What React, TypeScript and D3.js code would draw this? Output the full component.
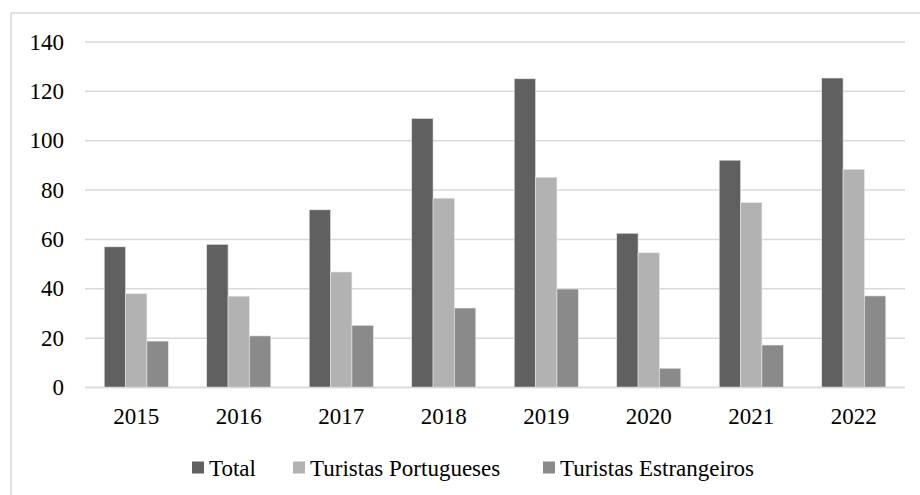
import React from "react";
import * as d3 from "d3";

const years = ["2015", "2016", "2017", "2018", "2019", "2020", "2021", "2022"];
const seriesNames = ["Total", "Turistas Portugueses", "Turistas Estrangeiros"];
const total = [57, 58, 72, 109, 125.1, 62.5, 92.1, 125.4];
const portugueses = [38, 37, 46.8, 76.7, 85.2, 54.6, 74.9, 88.4];
const estrangeiros = [18.8, 20.9, 25.2, 32.2, 39.9, 7.8, 17.2, 37.1];
const yTicks = [0, 20, 40, 60, 80, 100, 120, 140];
const colors = ["#606060", "#b2b2b2", "#8a8a8a"];

const W = 920;
const H = 495;
const left = 85;
const right = 905;
const top = 42;
const bottom = 387.5;
const font = '"Liberation Serif", "DejaVu Serif", serif';

export default function App() {
  const series = [total, portugueses, estrangeiros];
  const x0 = d3.scaleBand<string>().domain(years).range([left, right]).paddingInner(0.375).paddingOuter(0.1875);
  const x1 = d3.scaleBand<number>().domain([0, 1, 2]).range([0, x0.bandwidth()]);
  const y = d3.scaleLinear().domain([0, 140]).range([bottom, top]);

  const legendX = [192, 293, 543];
  const textStyle = { fontFamily: font, fontSize: "23px" };

  return (
    <svg width={W} height={H} style={{ position: "fixed", left: 0, top: 0, background: "#fff" }}>
      <rect x={11} y={13} width={W} height={H} fill="#fff" stroke="#d9d9d9" strokeWidth={1.5} />
      {yTicks.map((t) => (
        <g key={t}>
          <line x1={left} x2={right} y1={y(t)} y2={y(t)} stroke="#d9d9d9" strokeWidth={1.5} />
          <text x={64} y={y(t)} dy="0.33em" textAnchor="end" style={textStyle} fill="#000">
            {t}
          </text>
        </g>
      ))}
      {years.map((yr, i) => (
        <g key={yr}>
          {series.map((s, k) => (
            <rect
              key={k}
              x={(x0(yr) as number) + (x1(k) as number)}
              y={y(s[i])}
              width={x1.bandwidth()}
              height={y(0) - y(s[i])}
              fill={colors[k]}
              stroke="#e6e6e6"
              strokeWidth={0.6}
            />
          ))}
          <text x={(x0(yr) as number) + x0.bandwidth() / 2} y={423.5} textAnchor="middle" style={textStyle} fill="#000">
            {yr}
          </text>
        </g>
      ))}
      <line x1={left} x2={right} y1={bottom} y2={bottom} stroke="#d9d9d9" strokeWidth={1.5} />
      {seriesNames.map((n, k) => (
        <g key={n}>
          <rect x={legendX[k]} y={461.5} width={12} height={12} fill={colors[k]} />
          <text x={legendX[k] + 17} y={475.5} style={textStyle} fill="#000">
            {n}
          </text>
        </g>
      ))}
    </svg>
  );
}
